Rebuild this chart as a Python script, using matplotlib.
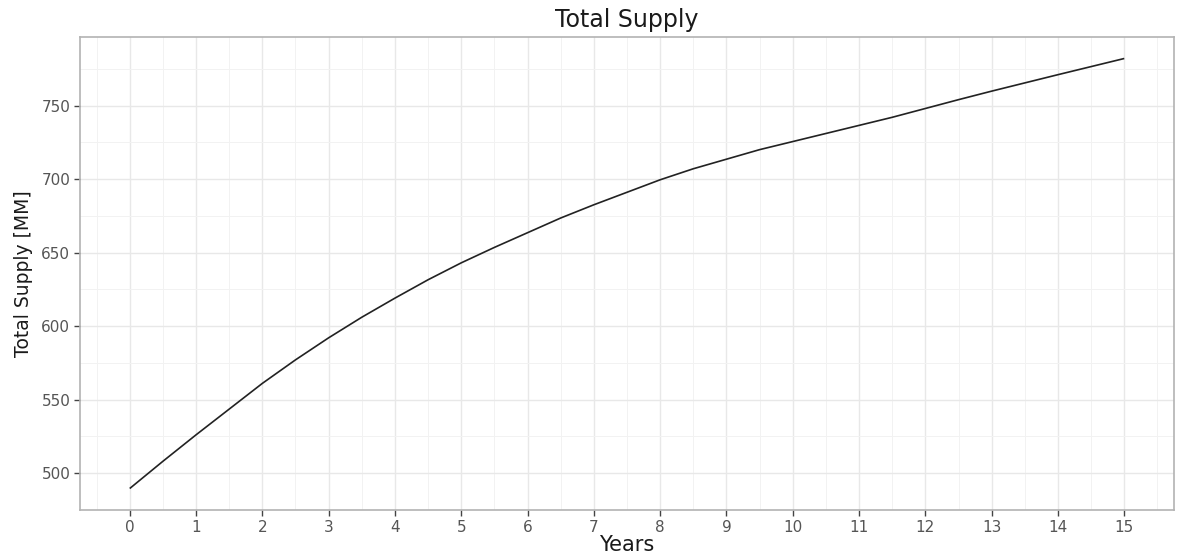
import matplotlib
matplotlib.use("Agg")
import matplotlib.pyplot as plt
from matplotlib.ticker import MultipleLocator

plt.rcParams['font.family'] = ['DejaVu Sans']

years = [0, 0.5, 1, 1.5, 2, 2.5, 3, 3.5, 4, 4.5, 5, 5.5, 6, 6.5, 7, 7.5,
         8, 8.5, 9, 9.5, 10, 10.5, 11, 11.5, 12, 12.5, 13, 13.5, 14, 14.5, 15]
supply = [489.5, 508, 526, 543.5, 561, 577, 592, 606, 619, 631.5, 643,
          653.5, 663.5, 673.5, 682.5, 691, 699.5, 707, 713.5, 720, 725.5,
          731, 736.5, 742, 748, 754, 759.8, 765.4, 771, 776.5, 782]
x_ticks = list(range(16))
y_ticks = [500, 550, 600, 650, 700, 750]

fig = plt.figure(figsize=(11.81, 5.56), dpi=100)
ax = fig.add_axes([80 / 1181, 1 - 510 / 556, 1094 / 1181, 473 / 556])

ax.plot(years, supply, color='#222222', linewidth=1.2,
        solid_capstyle='butt', solid_joinstyle='round')

span_x = max(years) - min(years)
span_y = max(supply) - min(supply)
ax.set_xlim(min(years) - 0.05 * span_x, max(years) + 0.05 * span_x)
ax.set_ylim(min(supply) - 0.05 * span_y, max(supply) + 0.05 * span_y)

ax.set_xticks(x_ticks)
ax.set_yticks(y_ticks)
ax.xaxis.set_minor_locator(MultipleLocator(0.5))
ax.yaxis.set_minor_locator(MultipleLocator(25))

ax.grid(which='major', color='#e8e8e8', linewidth=1.0)
ax.grid(which='minor', color='#f2f2f2', linewidth=0.7)
ax.set_axisbelow(True)

for s in ax.spines.values():
    s.set_color('#b3b3b3')
    s.set_linewidth(1.2)

ax.tick_params(which='major', length=4, width=1.0, color='#444444',
               labelsize=11, labelcolor='#555555', pad=3)
ax.tick_params(which='minor', length=0)

ax.set_title('Total Supply', fontsize=17, color='#1a1a1a', pad=7)
ax.set_xlabel('Years', fontsize=15, color='#1a1a1a', labelpad=0)
ax.set_ylabel('Total Supply [MM]', fontsize=13.5, color='#1a1a1a', labelpad=6)

fig.savefig('out.png', dpi=100, facecolor='white')
